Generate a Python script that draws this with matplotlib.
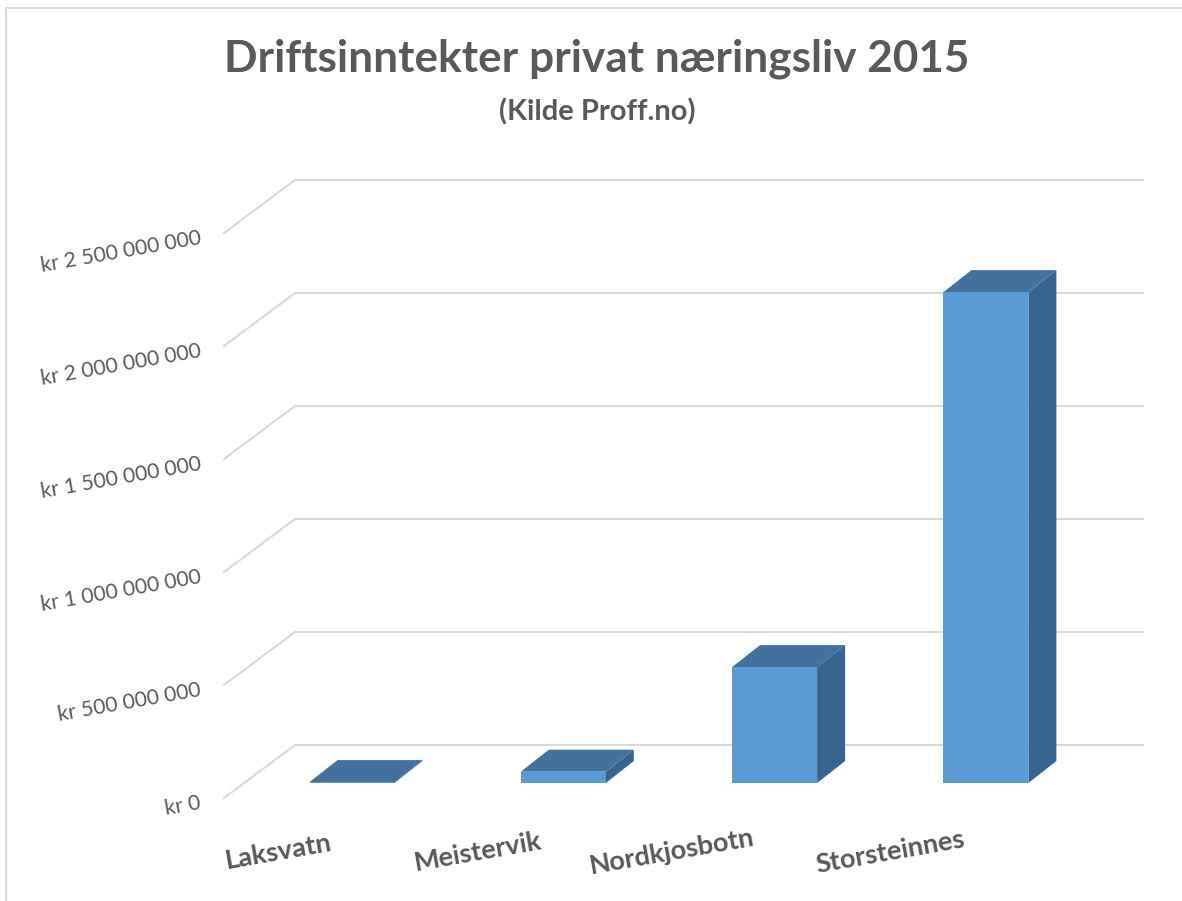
import matplotlib
matplotlib.use('Agg')
import matplotlib.pyplot as plt
from matplotlib.patches import Polygon
from matplotlib.lines import Line2D

plt.rcParams['font.family'] = ['Lato', 'DejaVu Sans']

# values (NOK)
places = ['Laksvatn', 'Meistervik', 'Nordkjosbotn', 'Storsteinnes']
income = [4000000, 50000000, 513000000, 2172000000]
tick_values = [0, 500000000, 1000000000, 1500000000, 2000000000, 2500000000]
tick_labels = ['kr 0', 'kr 500 000 000', 'kr 1 000 000 000', 'kr 1 500 000 000',
               'kr 2 000 000 000', 'kr 2 500 000 000']

# size of one pixel in data units
px_x = 1 / 211.3
px_y = 500000000 / 113

bar_width = 85 * px_x
depth_x = 28 * px_x
depth_y = 22 * px_y

fig = plt.figure(figsize=(11.82, 9.01), dpi=100)
ax = fig.add_axes([0, 0, 1, 1])
ax.set_xlim(-352 * px_x, (1182 - 352) * px_x)
ax.set_ylim(-(901 - 783) * px_y, 783 * px_y)
ax.axis('off')

# grid, running along the floor/side and then the back wall
side_left = (224 - 352) * px_x
wall_left = (295 - 352) * px_x
wall_right = (1143 - 352) * px_x
side_base = -15 * px_y
wall_base = 38 * px_y
for v in tick_values:
    ax.plot([side_left, wall_left, wall_right],
            [v + side_base, v + wall_base, v + wall_base],
            color='#d9d9d9', lw=1.5, solid_joinstyle='miter', zorder=1)

# bars: front from ax.bar, top and side faces as polygons
ax.bar(range(len(places)), income, width=bar_width, color='#5b9bd5', zorder=3)
for i, v in enumerate(income):
    left = i - bar_width / 2
    right = i + bar_width / 2
    top = [(left, v), (right, v), (right + depth_x, v + depth_y), (left + depth_x, v + depth_y)]
    side = [(right, 0), (right + depth_x, depth_y), (right + depth_x, v + depth_y), (right, v)]
    ax.add_patch(Polygon(side, closed=True, facecolor='#38658f', edgecolor='none', zorder=3))
    ax.add_patch(Polygon(top, closed=True, facecolor='#41719c', edgecolor='none', zorder=4))

# value labels
for v, label in zip(tick_values, tick_labels):
    ax.annotate(label, xy=(side_left, v + side_base), xytext=(-23, -5),
                textcoords='offset pixels', ha='right', va='center',
                rotation=10, rotation_mode='anchor', fontsize=15.2, color='#595959')

# category labels do not sit evenly under the bars in the original
label_shift = [-73, -85, -103, -96]
for i, name in enumerate(places):
    ax.annotate(name, xy=(i, 0), xytext=(label_shift[i], -69),
                textcoords='offset pixels', ha='center', va='center',
                rotation=10, rotation_mode='anchor', fontsize=19.5,
                fontweight='bold', color='#595959')

fig.text(597 / 1182, 1 - 59 / 901, 'Driftsinntekter privat næringsliv 2015', ha='center', va='center',
         fontsize=31.8, fontweight='bold', color='#595959')
fig.text(597 / 1182, 1 - 112 / 901, '(Kilde Proff.no)', ha='center', va='center',
         fontsize=21, fontweight='bold', color='#595959')

# frame of the screenshot, left and top only
fig.add_artist(Line2D([6 / 1182, 6 / 1182, 1], [0, 1 - 8 / 901, 1 - 8 / 901],
                      color='#d9d9d9', lw=1.5))

fig.savefig('out.png', dpi=100)
